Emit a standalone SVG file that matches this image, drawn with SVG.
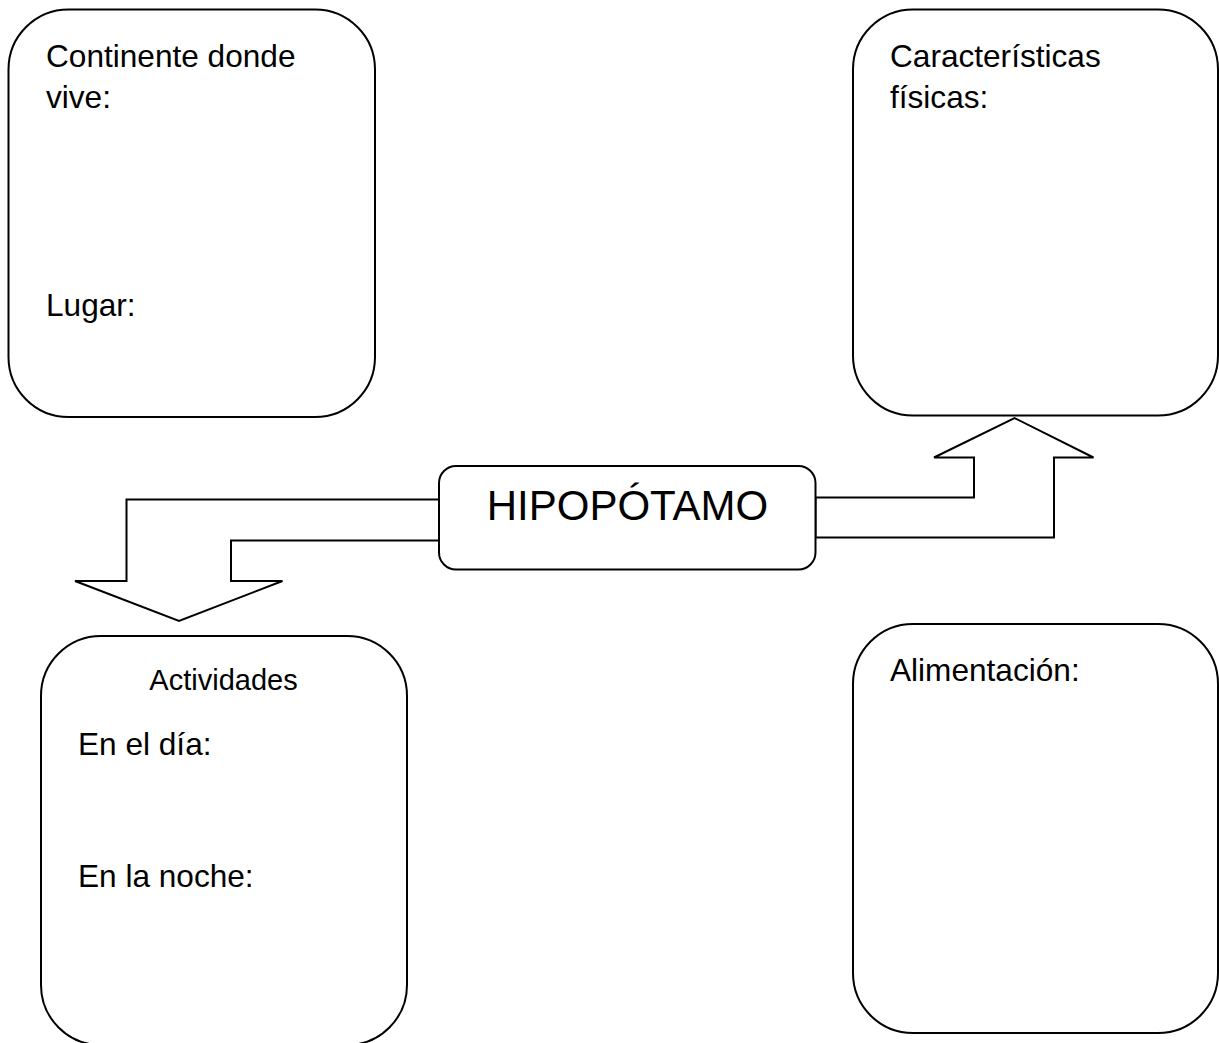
<svg xmlns="http://www.w3.org/2000/svg" width="1219" height="1043" viewBox="0 0 1219 1043">
<style>
.box{fill:#fff;stroke:#000;stroke-width:2}
.arrow{fill:#fff;stroke:#000;stroke-width:2;stroke-linejoin:miter}
text{font-family:"Liberation Sans",Arial,sans-serif;fill:#000}
.t{font-size:31.6px}
</style>
<rect width="1219" height="1043" fill="#fff"/>
<g id="connectors">
<polygon class="arrow" points="439,499.5 126.5,499.5 126.5,581 75,581 179,621 282.5,581 231,581 231,540.5 439,540.5"/>
<polygon class="arrow" points="815.5,497.5 974,497.5 974,457.5 934,457.5 1014.5,418 1093.5,457.5 1054,457.5 1054,537.5 815.5,537.5"/>
</g>
<g id="node-continente">
<rect class="box" x="8.5" y="9.5" width="366.5" height="407.5" rx="60" ry="60"/>
<text class="t" x="46" y="67">Continente donde</text>
<text class="t" x="46" y="108">vive:</text>
<text class="t" x="46" y="316">Lugar:</text>
</g>
<g id="node-caracteristicas">
<rect class="box" x="853" y="9.5" width="365" height="406" rx="60" ry="60"/>
<text class="t" x="890" y="67">Características</text>
<text class="t" x="890" y="108">físicas:</text>
</g>
<g id="node-hipopotamo">
<rect class="box" x="439" y="466" width="376.5" height="103.5" rx="17" ry="17"/>
<text x="627.5" y="520" font-size="42" text-anchor="middle">HIPOPÓTAMO</text>
</g>
<g id="node-actividades">
<rect class="box" x="41" y="636" width="366" height="409" rx="60" ry="60"/>
<text x="223.5" y="690" font-size="29" text-anchor="middle">Actividades</text>
<text class="t" x="78" y="755">En el día:</text>
<text class="t" x="78" y="887">En la noche:</text>
</g>
<g id="node-alimentacion">
<rect class="box" x="853" y="624" width="365" height="409" rx="60" ry="60"/>
<text class="t" x="890" y="681">Alimentación:</text>
</g>
</svg>
